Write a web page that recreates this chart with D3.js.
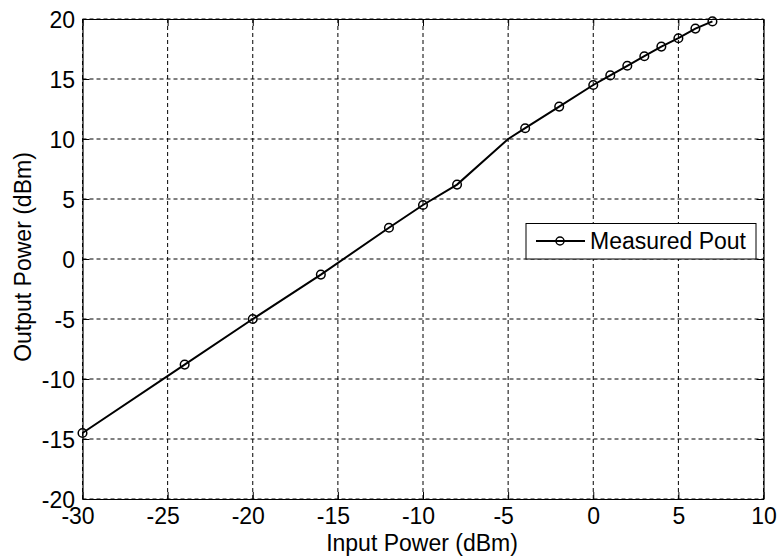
<!DOCTYPE html>
<html><head><meta charset="utf-8">
<script src="https://cdn.jsdelivr.net/npm/d3@7"></script>
<style>body{margin:0;background:#fff}text{font-family:"Liberation Sans",Arial,sans-serif}</style>
</head><body><svg id="c" width="777" height="558"></svg>
<script>
// Data
const inputPower = [-30, -24, -20, -16, -12, -10, -8, -4, -2, 0, 1, 2, 3, 4, 5, 6, 7];
const outputPower = [-14.5, -8.8, -5.0, -1.3, 2.6, 4.5, 6.2, 10.9, 12.7, 14.5, 15.3, 16.1, 16.9, 17.7, 18.4, 19.2, 19.8];
// The trace also bends at -5 dBm, where no marker is drawn
const lineInput = [-30, -24, -20, -16, -12, -10, -8, -5, -4, -2, 0, 1, 2, 3, 4, 5, 6, 7];
const lineOutput = [-14.5, -8.8, -5.0, -1.3, 2.6, 4.5, 6.2, 10.0, 10.9, 12.7, 14.5, 15.3, 16.1, 16.9, 17.7, 18.4, 19.2, 19.8];
const xTicks = [-30, -25, -20, -15, -10, -5, 0, 5, 10];
const yTicks = [-20, -15, -10, -5, 0, 5, 10, 15, 20];
const seriesName = "Measured Pout";
const xLabel = "Input Power (dBm)";
const yLabel = "Output Power (dBm)";

const svg = d3.select("#c");
const L = 82.5, R = 763.5, T = 19, B = 499;
const x = d3.scaleLinear().domain([-30, 10]).range([L, R]);
const y = d3.scaleLinear().domain([-20, 20]).range([B, T]);
const fs = 23;
const fmt = d => String(d);

// grid
const g = svg.append("g");
g.selectAll(".vg").data(xTicks).join("line")
  .attr("x1", d => x(d)).attr("x2", d => x(d)).attr("y1", T).attr("y2", B)
  .attr("stroke", "#000").attr("stroke-width", 1).attr("stroke-dasharray", "4,3");
g.selectAll(".hg").data(yTicks).join("line")
  .attr("y1", d => y(d)).attr("y2", d => y(d)).attr("x1", L).attr("x2", R)
  .attr("stroke", "#000").attr("stroke-width", 1).attr("stroke-dasharray", "4,3");

// axes with inward ticks
const tl = 7;
const axB = svg.append("g").attr("transform", `translate(0,${B})`)
  .call(d3.axisBottom(x).tickValues(xTicks).tickSizeInner(-tl).tickSizeOuter(0).tickFormat(fmt));
const axT = svg.append("g").attr("transform", `translate(0,${T})`)
  .call(d3.axisTop(x).tickValues(xTicks).tickSizeInner(-tl).tickSizeOuter(0).tickFormat(""));
const axL = svg.append("g").attr("transform", `translate(${L},0)`)
  .call(d3.axisLeft(y).tickValues(yTicks).tickSizeInner(-tl).tickSizeOuter(0).tickFormat(fmt));
const axR = svg.append("g").attr("transform", `translate(${R},0)`)
  .call(d3.axisRight(y).tickValues(yTicks).tickSizeInner(-tl).tickSizeOuter(0).tickFormat(""));
[axB, axT, axL, axR].forEach(a => {
  a.selectAll("path").attr("stroke", "#000").attr("stroke-width", 1.2);
  a.selectAll("line").attr("stroke", "#000").attr("stroke-width", 1);
  a.selectAll("text").attr("font-size", fs).attr("fill", "#000")
    .style("font-family", '"Liberation Sans",Arial,sans-serif');
});
axB.selectAll("text").attr("dy", null).attr("y", 25).attr("dx", d => d < 0 ? -5 : 0);
axL.selectAll("text").attr("x", -7.5).attr("dy", "0.35em");

// series line
const line = d3.line().x(d => x(d[0])).y(d => y(d[1]));
svg.append("path").datum(d3.zip(lineInput, lineOutput))
  .attr("d", line).attr("fill", "none").attr("stroke", "#000").attr("stroke-width", 2);
svg.selectAll(".mk").data(d3.zip(inputPower, outputPower)).join("circle")
  .attr("cx", d => x(d[0])).attr("cy", d => y(d[1])).attr("r", 4.3)
  .attr("fill", "none").attr("stroke", "#000").attr("stroke-width", 1.5);

// legend
const lg = svg.append("g");
lg.append("rect").attr("x", 526).attr("y", 223.5).attr("width", 230).attr("height", 35.5)
  .attr("fill", "#fff").attr("stroke", "#000").attr("stroke-width", 1);
lg.append("line").attr("x1", 536).attr("x2", 585).attr("y1", 241).attr("y2", 241)
  .attr("stroke", "#000").attr("stroke-width", 2);
lg.append("circle").attr("cx", 560).attr("cy", 241).attr("r", 4)
  .attr("fill", "none").attr("stroke", "#000").attr("stroke-width", 1.5);
lg.append("text").attr("x", 590).attr("y", 249).attr("font-size", fs).text(seriesName);

// axis labels
svg.append("text").attr("x", 422).attr("y", 551).attr("text-anchor", "middle")
  .attr("font-size", fs).text(xLabel);
svg.append("text").attr("transform", `translate(31,${(T + B) / 2 - 2}) rotate(-90)`)
  .attr("text-anchor", "middle").attr("font-size", fs).text(yLabel);
</script></body></html>
